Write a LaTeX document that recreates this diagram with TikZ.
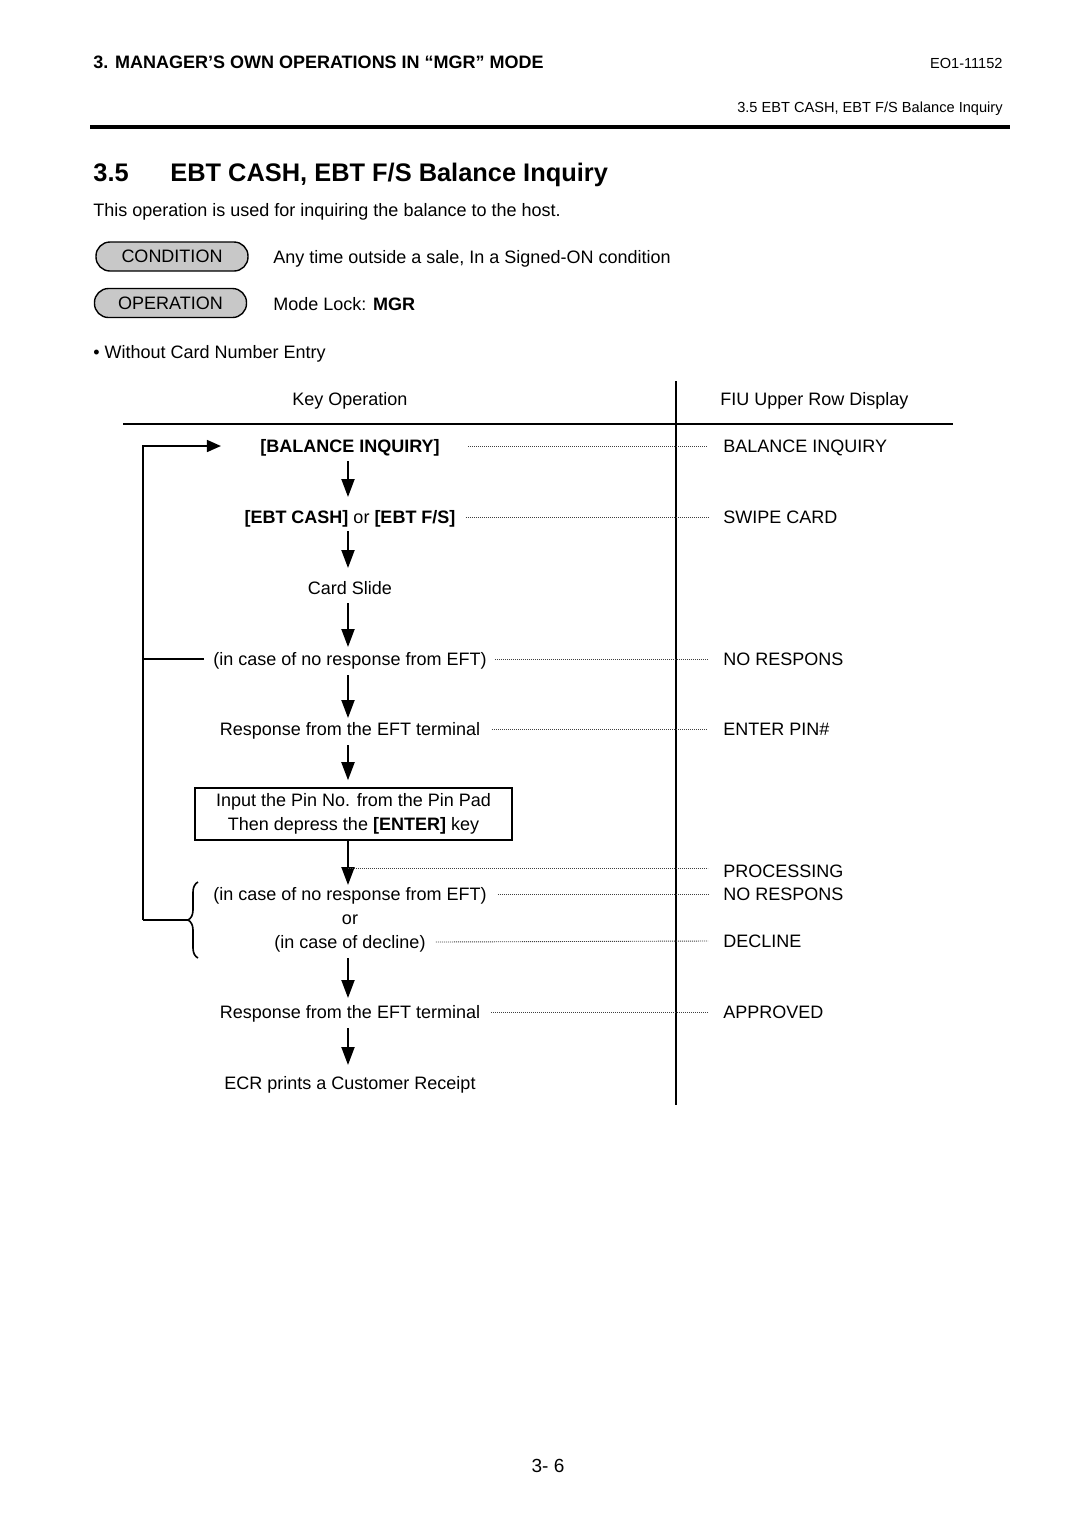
\documentclass[tikz,border=0pt]{standalone}
\usepackage{fontspec}
\setmainfont{Liberation Sans}
\usetikzlibrary{arrows.meta,decorations.pathreplacing,calc}
\definecolor{pillgray}{RGB}{200,200,200}
\begin{document}
\begin{tikzpicture}[x=0.5pt,y=-0.5pt,
  t/.style={inner sep=0pt,font=\fontsize{9pt}{11pt}\selectfont,text height=6.45pt,text depth=0pt},
  tb/.style={t,font=\fontsize{9pt}{11pt}\selectfont\bfseries},
  small/.style={inner sep=0pt,font=\fontsize{7.3pt}{9pt}\selectfont,text height=5.2pt,text depth=0pt},
  ttl/.style={inner sep=0pt,font=\fontsize{12.7pt}{15pt}\selectfont\bfseries,text height=9.1pt,text depth=0pt},
  pill/.style={draw,line width=0.7pt,fill=pillgray,rounded corners=7pt,minimum width=76pt,minimum height=14.5pt,inner sep=0pt,font=\fontsize{9pt}{11pt}\selectfont,text height=6.45pt,text depth=0pt},
  flowarr/.style={line width=1pt,-{Triangle[width=6.5pt,length=9pt]}},
  looparr/.style={line width=0.8pt,-{Triangle[width=6pt,length=7pt]}},
  loopline/.style={line width=0.8pt},
  dotl/.style={line width=0.45pt,dash pattern=on 0.45pt off 0.55pt,draw=black!75},
  rule/.style={line width=1pt},
  boxst/.style={draw,line width=0.8pt,minimum width=158.5pt,minimum height=26pt,inner sep=0pt,align=center,font=\fontsize{9pt}{12pt}\selectfont},
]
\fill[white] (0,0) rectangle (1080,1528);
\useasboundingbox (0,0) rectangle (1080,1528);

% header
\node[tb,anchor=west] (hdr) at (93,62) {3. MANAGER’S OWN OPERATIONS IN “MGR” MODE};
\node[small,anchor=east] (doc) at (1003,63) {EO1-11152};
\node[small,anchor=east] (sec) at (1003,107) {3.5 EBT CASH, EBT F/S Balance Inquiry};
\draw[line width=2pt] (90,127) -- (1010,127);

\node[ttl,anchor=west] (num) at (93,172) {3.5};
\node[ttl,anchor=west] (title) at (170,172) {EBT CASH, EBT F/S Balance Inquiry};
\node[t,anchor=west] (desc) at (93,210) {This operation is used for inquiring the balance to the host.};

\node[pill] (cond) at (172,256.5) {CONDITION};
\node[t,anchor=west] (condt) at (273,257) {Any time outside a sale, In a Signed-ON condition};
\node[pill] (oper) at (170.5,303) {OPERATION};
\node[t,anchor=west] (opert) at (273,304) {Mode Lock: \textbf{MGR}};
\node[t,anchor=west] (bul) at (93,352) {• Without Card Number Entry};

% table
\node[t] (kop) at (350,399) {Key Operation};
\node[t,anchor=west] (fiu) at (720,399) {FIU Upper Row Display};
\draw[rule] (676,381) -- (676,1105);
\draw[rule] (123,424) -- (953,424);

% flow nodes
\node[tb] (bi) at (350,446) {[BALANCE INQUIRY]};
\node[t] (ebt) at (350,517) {\textbf{[EBT CASH]} or \textbf{[EBT F/S]}};
\node[t] (card) at (350,588) {Card Slide};
\node[t] (nr1) at (350,659) {(in case of no response from EFT)};
\node[t] (resp1) at (350,729) {Response from the EFT terminal};
\node[boxst] (box) at (353.5,814) {Input the Pin No. from the Pin Pad\\Then depress the \textbf{[ENTER]} key};
\node[t] (nr2) at (350,894) {(in case of no response from EFT)};
\node[t] (or) at (350,918) {or};
\node[t] (decl) at (350,942) {(in case of decline)};
\node[t] (resp2) at (350,1012) {Response from the EFT terminal};
\node[t] (ecr) at (350,1083) {ECR prints a Customer Receipt};

% display nodes
\node[t,anchor=west] (dbi) at (723,446) {BALANCE INQUIRY};
\node[t,anchor=west] (dswipe) at (723,517) {SWIPE CARD};
\node[t,anchor=west] (dnr1) at (723,659) {NO RESPONS};
\node[t,anchor=west] (dpin) at (723,729) {ENTER PIN\#};
\node[t,anchor=west] (dproc) at (723,871) {PROCESSING};
\node[t,anchor=west] (dnr2) at (723,894) {NO RESPONS};
\node[t,anchor=west] (ddecl) at (723,941) {DECLINE};
\node[t,anchor=west] (dappr) at (723,1012) {APPROVED};

% flow arrows
\draw[flowarr] ([xshift=-1pt,yshift=-7.5pt]bi.center) -- ([xshift=-1pt,yshift=10pt]ebt.center);
\draw[flowarr] ([xshift=-1pt,yshift=-7pt]ebt.center) -- ([xshift=-1pt,yshift=10pt]card.center);
\draw[flowarr] ([xshift=-1pt,yshift=-7.5pt]card.center) -- ([xshift=-1pt,yshift=6pt]nr1.center);
\draw[flowarr] ([xshift=-1pt,yshift=-8pt]nr1.center) -- ([xshift=-1pt,yshift=5.5pt]resp1.center);
\draw[flowarr] ([xshift=-1pt,yshift=-8pt]resp1.center) -- ([xshift=-2.75pt,yshift=3.5pt]box.north);
\draw[flowarr] ([xshift=-2.75pt]box.south) -- ([xshift=-1pt,yshift=4.5pt]nr2.center);
\draw[flowarr] ([xshift=-1pt,yshift=-8pt]decl.center) -- ([xshift=-1pt,yshift=7pt]resp2.center);
\draw[flowarr] ([xshift=-1pt,yshift=-8pt]resp2.center) -- ([xshift=-1pt,yshift=9pt]ecr.center);

% dotted leaders
\draw[dotl] ([xshift=14pt]bi.east) -- ([xshift=-7.5pt]dbi.west);
\draw[dotl] ([xshift=5pt]ebt.east) -- ([xshift=-7.5pt]dswipe.west);
\draw[dotl] ([xshift=4pt]nr1.east) -- ([xshift=-7.5pt]dnr1.west);
\draw[dotl] ([xshift=6pt]resp1.east) -- ([xshift=-7.5pt]dpin.west);
\coordinate (pc) at (348,868);
\coordinate (pe) at (708,868);
\draw[dotl] (pc) -- (pe);
\draw[dotl] ([xshift=5.5pt]nr2.east) -- ([xshift=-7.5pt]dnr2.west);
\draw[dotl] ([xshift=5pt]decl.east) -- ([xshift=-7.5pt]ddecl.west);
\draw[dotl] ([xshift=5.5pt]resp2.east) -- ([xshift=-7.5pt]dappr.west);

% loop back
\draw[loopline,decorate,decoration={brace,amplitude=5pt}] (198,958) -- (198,882);
\coordinate (btip) at (188,920);
\coordinate (lb) at (143,920);
\coordinate (lm) at (143,659);
\draw[loopline] (btip) -- (lb);
\draw[looparr] (lb) |- ([xshift=-19.5pt]bi.west);
\draw[loopline] ([xshift=-4.5pt]nr1.west) -- (lm);

% page number
\node[t,font=\fontsize{9.5pt}{11pt}\selectfont] (pg) at (548,1466) {3- 6};
\end{tikzpicture}
\end{document}
